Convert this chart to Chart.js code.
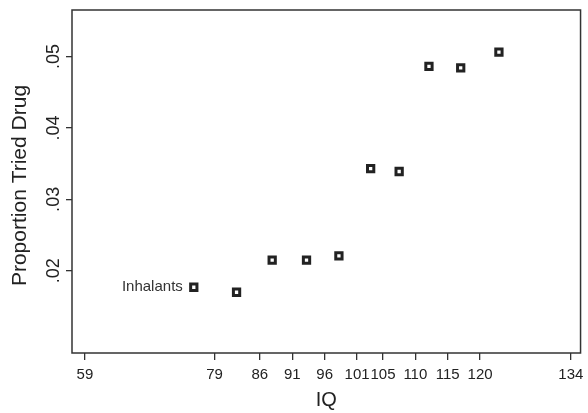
<!DOCTYPE html>
<html lang="en">
<head>
  <meta charset="UTF-8">
  <title>IQ and drug use</title>
  <script src="https://cdn.jsdelivr.net/npm/chart.js@4.4.1/dist/chart.umd.min.js"></script>
  <style>
    body {
      margin: 0;
      background: white;
    }
    #wrap {
      width: 588px;
      height: 413px;
    }
  </style>
</head>
<body>
  <div id="wrap">
    <canvas id="myChart" width="588" height="413"></canvas>
  </div>
  <script>
    // values
    const iq = [75.8, 82.4, 87.9, 93.2, 98.2, 103.1, 107.5, 112.1, 117.0, 122.9];
    const tried = [0.0177, 0.0170, 0.0215, 0.0215, 0.0221, 0.0343, 0.0339, 0.0486, 0.0484, 0.0506];
    const pointLabels = ['Inhalants', '', '', '', '', '', '', '', '', ''];
    const xTicks = [59, 79, 86, 91, 96, 101, 105, 110, 115, 120, 134];
    const yTicks = [0.02, 0.03, 0.04, 0.05];
    const yTickText = ['.02', '.03', '.04', '.05'];

    const font = '"Liberation Sans", Arial, sans-serif';
    const ink = '#222';

    const pts = [];
    for (let i = 0; i < iq.length; i++) {
      pts.push({ x: iq[i], y: tried[i] });
    }

    // frame, rotated y labels and the point label
    const extras = {
      id: 'extras',
      afterDraw(chart) {
        const ctx = chart.ctx;
        const a = chart.chartArea;
        const xs = chart.scales.x;
        const ys = chart.scales.y;
        ctx.save();
        ctx.strokeStyle = '#333';
        ctx.lineWidth = 1.5;
        ctx.strokeRect(a.left, a.top, a.right - a.left, a.bottom - a.top);

        ctx.fillStyle = ink;
        ctx.textAlign = 'center';
        ctx.textBaseline = 'middle';
        ctx.font = '18px ' + font;
        for (let i = 0; i < yTicks.length; i++) {
          const py = ys.getPixelForValue(yTicks[i]);
          ctx.save();
          ctx.translate(54, py);
          ctx.rotate(-Math.PI / 2);
          ctx.fillText(yTickText[i], 0, 0);
          ctx.restore();
        }

        ctx.font = '21px ' + font;
        ctx.save();
        ctx.translate(20, (a.top + a.bottom) / 2 + 4);
        ctx.rotate(-Math.PI / 2);
        ctx.fillText('Proportion Tried Drug', 0, 0);
        ctx.restore();

        ctx.font = '15px ' + font;
        ctx.textAlign = 'right';
        ctx.fillStyle = '#333';
        for (let i = 0; i < pts.length; i++) {
          if (!pointLabels[i]) continue;
          const px = xs.getPixelForValue(pts[i].x);
          const py = ys.getPixelForValue(pts[i].y);
          ctx.fillText(pointLabels[i], px - 11, py);
        }
        ctx.restore();
      }
    };

    const ctx = document.getElementById('myChart');

    new Chart(ctx, {
      type: 'scatter',
      data: {
        datasets: [{
          data: pts,
          pointStyle: 'rect',
          pointRadius: 4.45,
          pointHoverRadius: 4.45,
          borderWidth: 3,
          borderColor: ink,
          backgroundColor: 'white'
        }]
      },
      options: {
        responsive: false,
        animation: false,
        events: [],
        layout: {
          padding: { left: 0, top: 10, right: 3, bottom: 0 }
        },
        plugins: {
          legend: { display: false },
          tooltip: { enabled: false }
        },
        scales: {
          x: {
            type: 'linear',
            min: 57,
            max: 135.5,
            afterBuildTicks: (scale) => {
              scale.ticks = xTicks.map(v => ({ value: v }));
            },
            afterFit: (scale) => {
              scale.height = 60;
              scale.paddingLeft = 0;
              scale.paddingRight = 0;
            },
            border: { display: false },
            grid: {
              drawOnChartArea: false,
              color: '#333',
              lineWidth: 1.3,
              tickLength: 7
            },
            ticks: {
              autoSkip: false,
              maxRotation: 0,
              minRotation: 0,
              padding: 6,
              color: ink,
              font: { family: font, size: 15 },
              callback: (v) => String(v)
            },
            title: {
              display: true,
              text: 'IQ',
              color: ink,
              font: { family: font, size: 20 },
              padding: { top: 2, bottom: 1 }
            }
          },
          y: {
            type: 'linear',
            min: 0.0085,
            max: 0.0565,
            afterBuildTicks: (scale) => {
              scale.ticks = yTicks.map(v => ({ value: v }));
            },
            afterFit: (scale) => {
              scale.width = 72;
            },
            border: { display: false },
            grid: {
              drawOnChartArea: false,
              color: '#333',
              lineWidth: 1.3,
              tickLength: 6
            },
            ticks: { display: false }
          }
        }
      },
      plugins: [extras]
    });
  </script>
</body>
</html>
